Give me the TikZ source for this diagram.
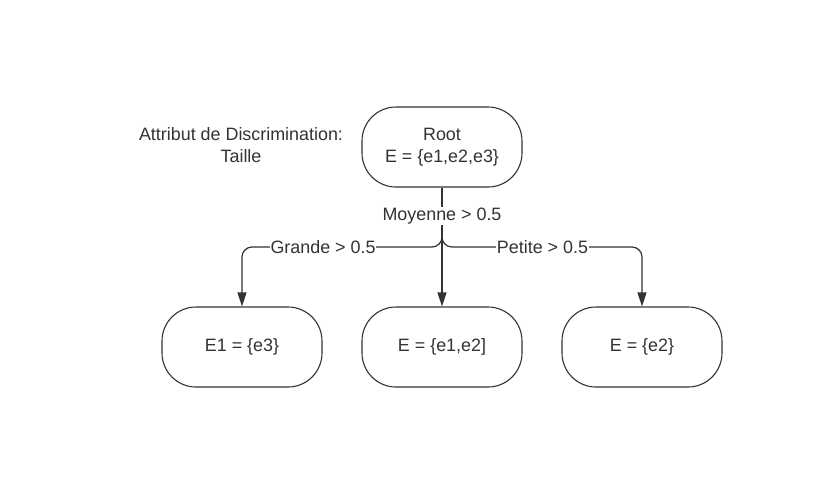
\documentclass[tikz,border=0pt]{standalone}
\usepackage{fontspec}
\setmainfont{Liberation Sans}
\usetikzlibrary{arrows.meta}
\definecolor{ln}{HTML}{333333}
\begin{document}
\begin{tikzpicture}[x=1pt,y=-1pt,
  every node/.style={font=\fontsize{17.9}{22}\selectfont, text=ln},
  term/.style={draw=ln, line width=1.1pt, rounded corners=34pt, minimum width=160pt, minimum height=80pt, align=center, inner sep=0pt},
  conn/.style={draw=ln, line width=1.2pt, -{Triangle[length=14pt,width=9pt]}},
  lab/.style={fill=white, inner sep=1pt}]
\useasboundingbox (0,0) rectangle (832,491);
\node[term] (root) at (442,147) {Root\\E = \{e1,e2,e3\}};
\node[term] (e1) at (242,347) {E1 = \{e3\}};
\node[term] (e12) at (442,347) {E = \{e1,e2]};
\node[term] (e2) at (642,347) {E = \{e2\}};
\node[align=center] (attr) at (241,145) {Attribut de Discrimination:\\Taille};
\coordinate (jc) at (442,236);
\coordinate (jl) at (242,247);
\coordinate (jr) at (642,247);
\draw[conn] (root.south) -- (e12.north);
\draw[conn, rounded corners=10pt] (jc) |- (jl) -- (e1.north);
\draw[conn, rounded corners=10pt] (jc) |- (jr) -- (e2.north);
\node[lab] (moy) at (442,216) {Moyenne > 0.5};
\node[lab] (gr) at (323,247) {Grande > 0.5};
\node[lab] (pe) at (542.5,247) {Petite > 0.5};
\end{tikzpicture}
\end{document}
